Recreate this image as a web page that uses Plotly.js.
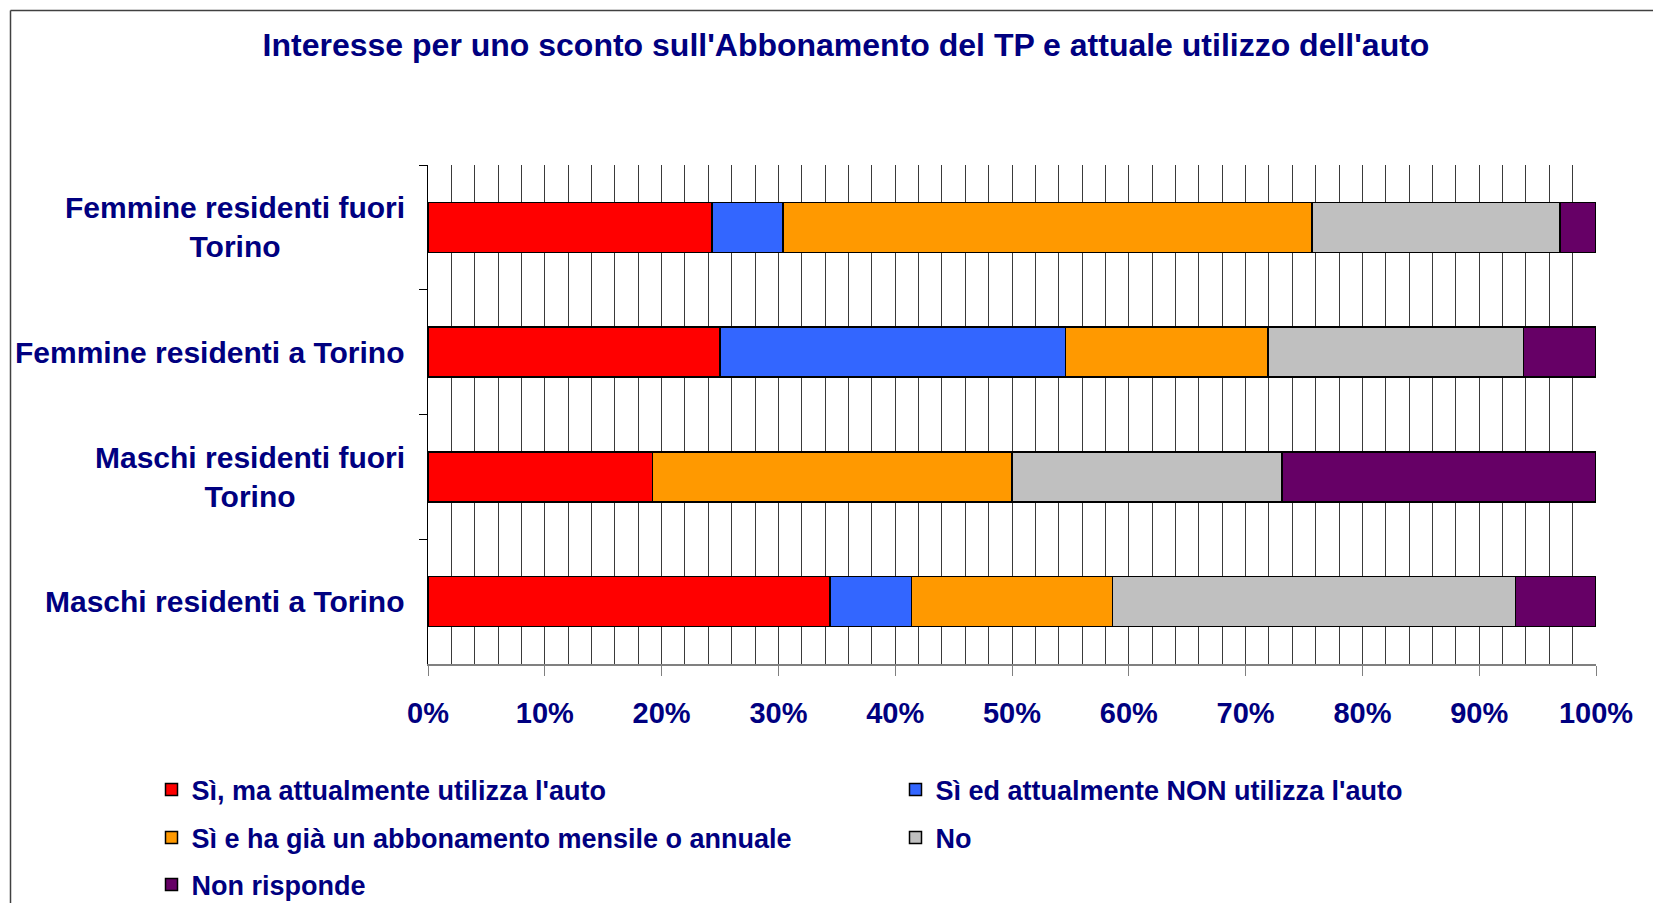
<!DOCTYPE html>
<html>
<head>
<meta charset="utf-8">
<script src="https://cdn.plot.ly/plotly-3.0.1.min.js"></script>
<style>
html,body{margin:0;padding:0;background:#fff;}
#chart{width:1653px;height:903px;}
</style>
</head>
<body>
<div id="chart"></div>
<script>
// Categories, top to bottom
const categories = [
  "Femmine residenti fuori Torino",
  "Femmine residenti a Torino",
  "Maschi residenti fuori Torino",
  "Maschi residenti a Torino"
];
const categoryLabels = [
  "Femmine residenti fuori<br>Torino",
  "Femmine residenti a Torino",
  "Maschi residenti fuori<br>Torino",
  "Maschi residenti a Torino"
];
const seriesNames = [
  "Sì, ma attualmente utilizza l'auto",
  "Sì ed attualmente NON utilizza l'auto",
  "Sì e ha già un abbonamento mensile o annuale",
  "No",
  "Non risponde"
];
const siUsaAuto      = [24.3, 25.0, 19.2, 34.4];
const siNonUsaAuto   = [6.1, 29.6, 0.0, 7.0];
const siAbbonamento  = [45.3, 17.3, 30.8, 17.2];
const no             = [21.2, 21.9, 23.1, 34.5];
const nonRisponde    = [3.1, 6.2, 26.9, 6.9];
const xTickValues = [0, 10, 20, 30, 40, 50, 60, 70, 80, 90, 100];
const xTickLabels = ["0%", "10%", "20%", "30%", "40%", "50%", "60%", "70%", "80%", "90%", "100%"];

const seriesValues = [siUsaAuto, siNonUsaAuto, siAbbonamento, no, nonRisponde];
const colors = ["#FF0000", "#3366FF", "#FF9900", "#C0C0C0", "#660066"];
const legendIds = ["legend", "legend2", "legend3", "legend4", "legend5"];

const FONT = "Liberation Sans, Arial, sans-serif";
const NAVY = "#000080";

const traces = seriesValues.map((vals, i) => ({
  type: "bar",
  orientation: "h",
  name: seriesNames[i],
  x: vals,
  y: categories,
  legend: legendIds[i],
  marker: {color: colors[i], line: {color: "#000", width: 1.5}},
  hoverinfo: "x+name"
}));

// plot area geometry
const L = 428, R = 57, T = 165, B = 239;
const W = 1653, H = 903;
const pw = W - L - R, ph = H - T - B;
const px2x = p => (p - L) / pw;
const py2y = p => (H - B - p) / ph;

const annotations = categories.map((c, i) => ({
  xref: "paper", yref: "y",
  x: px2x(407), y: c,
  xanchor: "right", yanchor: "middle",
  align: "center",
  text: categoryLabels[i],
  showarrow: false,
  font: {family: FONT, size: 30, color: NAVY, weight: "bold"}
}));

const legendBase = {
  orientation: "h",
  xref: "container", yref: "container",
  xanchor: "left", yanchor: "middle",
  font: {family: FONT, size: 27, color: NAVY, weight: "bold"},
  bgcolor: "rgba(0,0,0,0)"
};
const col1 = 151.5 / W, col2 = 895.5 / W;
const row1 = 1 - 790 / H, row2 = 1 - 838 / H, row3 = 1 - 885 / H;

const layout = {
  width: W, height: H,
  margin: {l: L, r: R, t: T, b: B, pad: 0},
  paper_bgcolor: "#fff",
  plot_bgcolor: "#fff",
  barmode: "stack",
  bargap: 0.6,
  showlegend: true,
  title: {
    text: "Interesse per uno sconto sull'Abbonamento del TP e attuale utilizzo dell'auto",
    font: {family: FONT, size: 32, color: NAVY, weight: "bold"},
    xref: "container", yref: "container",
    x: 846 / W, xanchor: "center",
    y: 1 - 45 / H, yanchor: "middle"
  },
  xaxis: {
    range: [0, 100],
    tickmode: "array",
    tickvals: xTickValues,
    ticktext: xTickLabels,
    ticks: "outside", ticklen: 10, tickwidth: 1, tickcolor: "#808080",
    ticklabelstandoff: 12,
    showline: true, linecolor: "#808080", linewidth: 2,
    showgrid: true, gridcolor: "#3a3a3a", gridwidth: 1,
    minor: {dtick: 2, showgrid: true, gridcolor: "#3a3a3a", gridwidth: 1, ticks: ""},
    zeroline: false,
    tickfont: {family: FONT, size: 29, color: NAVY, weight: "bold"},
    fixedrange: true
  },
  yaxis: {
    type: "category",
    autorange: "reversed",
    showticklabels: false,
    ticks: "outside", tickson: "boundaries", ticklen: 8, tickcolor: "#000", tickwidth: 1,
    showline: true, linecolor: "#000", linewidth: 1,
    showgrid: false, zeroline: false,
    fixedrange: true
  },
  legend:  Object.assign({}, legendBase, {x: col1, y: row1}),
  legend2: Object.assign({}, legendBase, {x: col2, y: row1}),
  legend3: Object.assign({}, legendBase, {x: col1, y: row2}),
  legend4: Object.assign({}, legendBase, {x: col2, y: row2}),
  legend5: Object.assign({}, legendBase, {x: col1, y: row3}),
  annotations: annotations,
  shapes: [
    {type: "line", xref: "paper", yref: "paper",
     x0: px2x(10.5), x1: px2x(10.5), y0: py2y(10.5), y1: py2y(903),
     line: {color: "#404040", width: 1.5}},
    {type: "line", xref: "paper", yref: "paper",
     x0: px2x(10.5), x1: px2x(1653), y0: py2y(10.5), y1: py2y(10.5),
     line: {color: "#404040", width: 1.5}}
  ]
};

Plotly.newPlot("chart", traces, layout, {displayModeBar: false, staticPlot: true});
</script>
</body>
</html>
